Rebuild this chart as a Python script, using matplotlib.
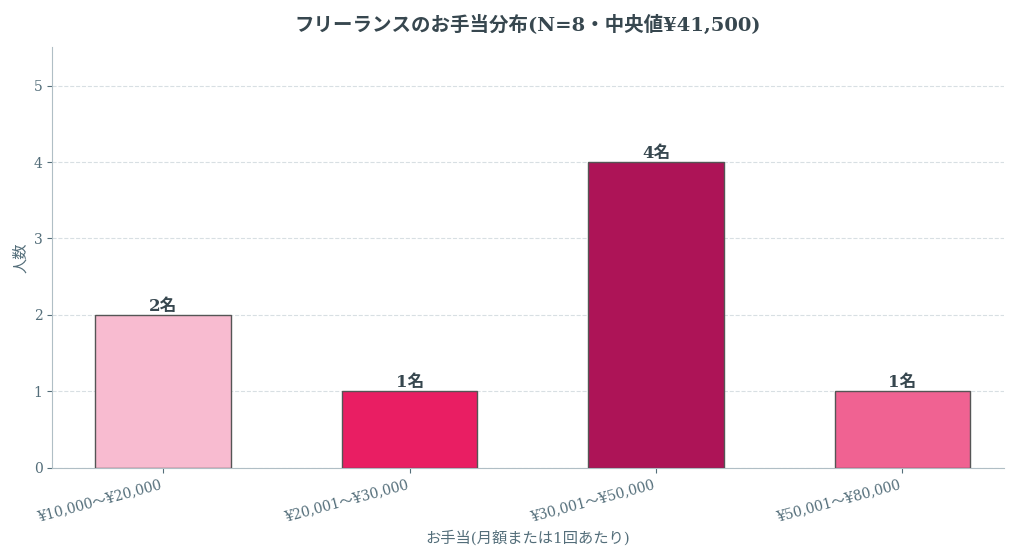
import matplotlib
matplotlib.use("Agg")
import matplotlib.pyplot as plt

categories = ["¥10,000〜¥20,000", "¥20,001〜¥30,000", "¥30,001〜¥50,000", "¥50,001〜¥80,000"]
counts = [2, 1, 4, 1]
colors = ["#F8BBD0", "#E91E63", "#AD1457", "#F06292"]

plt.rcParams['font.family'] = ['DejaVu Serif', 'Noto Sans CJK JP']
txt = "#37474F"
fig = plt.figure(figsize=(10.24, 5.57), dpi=100)
ax = fig.add_axes([0.051, 0.16, 0.929, 0.755])
x = range(len(categories))
bars = ax.bar(x, counts, width=0.55, color=colors, edgecolor="#555555", linewidth=1.0, zorder=3)
for b, c in zip(bars, counts):
    ax.text(b.get_x() + b.get_width()/2, c, f"{c}名", ha="center", va="bottom",
            fontsize=12, fontweight="bold", color=txt)
ax.set_xticks(list(x))
ax.set_xticklabels(categories, rotation=15, ha="right", color="#546E7A", fontsize=10)
ax.set_ylim(0, 5.5)
ax.set_xlim(-0.45, 3.41)
ax.set_yticks(range(6))
ax.tick_params(colors="#546E7A", labelsize=10)
ax.yaxis.grid(True, linestyle="--", color="#CFD8DC", alpha=0.8, zorder=0)
for s in ["top", "right"]:
    ax.spines[s].set_visible(False)
for s in ["left", "bottom"]:
    ax.spines[s].set_color("#B0BEC5")
ax.set_ylabel("人数", color="#546E7A", fontsize=11)
ax.set_xlabel("お手当(月額または1回あたり)", color="#546E7A", fontsize=11)
ax.set_title("フリーランスのお手当分布(N=8・中央値¥41,500)", fontsize=14, fontweight="bold", color=txt, pad=12)
fig.savefig("out.png", dpi=100)
